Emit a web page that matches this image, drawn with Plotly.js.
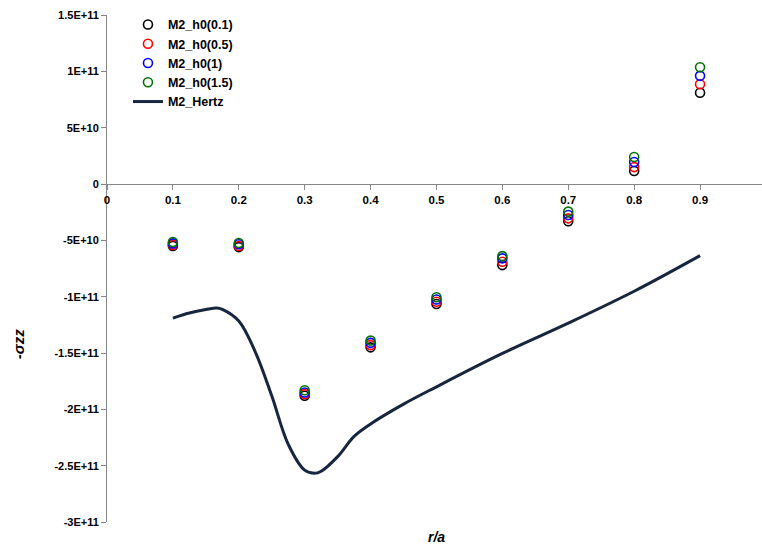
<!DOCTYPE html>
<html>
<head>
<meta charset="utf-8">
<script src="https://cdn.plot.ly/plotly-3.0.1.min.js"></script>
<style>
  html, body { margin: 0; padding: 0; background: #ffffff; }
  #chart { width: 762px; height: 547px; }
</style>
</head>
<body>
<div id="chart"></div>
<script>
// Radial position r/a of the sampled points
const rPoints = [0.1, 0.2, 0.3, 0.4, 0.5, 0.6, 0.7, 0.8, 0.9];

// -sigma_zz for each initial gap h0
const h0_01 = [-5.5e10, -5.6e10, -1.88e11, -1.45e11, -1.065e11, -7.2e10, -3.3e10, 1.15e10, 8.1e10];
const h0_05 = [-5.4e10, -5.5e10, -1.865e11, -1.43e11, -1.045e11, -6.9e10, -3.05e10, 1.5e10, 8.85e10];
const h0_1  = [-5.27e10, -5.35e10, -1.85e11, -1.41e11, -1.025e11, -6.6e10, -2.75e10, 1.95e10, 9.6e10];
const h0_15 = [-5.15e10, -5.24e10, -1.83e11, -1.39e11, -1.005e11, -6.4e10, -2.45e10, 2.4e10, 1.036e11];

// Hertz reference solution
const hertzR = [0.1, 0.125, 0.15, 0.1665, 0.175, 0.2, 0.225, 0.25, 0.275, 0.3, 0.315, 0.325,
                0.35, 0.375, 0.4, 0.45, 0.5, 0.6, 0.7, 0.8, 0.9];
const hertzS = [-1.19e11, -1.145e11, -1.114e11, -1.10e11, -1.112e11, -1.216e11, -1.49e11, -1.88e11,
                -2.31e11, -2.54e11, -2.568e11, -2.55e11, -2.42e11, -2.24e11, -2.13e11, -1.954e11,
                -1.80e11, -1.504e11, -1.235e11, -9.52e10, -6.36e10];

// Axis ticks
const xTickVals = [0, 0.1, 0.2, 0.3, 0.4, 0.5, 0.6, 0.7, 0.8, 0.9];
const xTickText = ['0', '0.1', '0.2', '0.3', '0.4', '0.5', '0.6', '0.7', '0.8', '0.9'];
const yTickVals = [1.5e11, 1e11, 5e10, 0, -5e10, -1e11, -1.5e11, -2e11, -2.5e11, -3e11];
const yTickText = ['1.5E+11', '1E+11', '5E+10', '0', '-5E+10', '-1E+11', '-1.5E+11', '-2E+11', '-2.5E+11', '-3E+11'];

const seriesNames = ['M2_h0(0.1)', 'M2_h0(0.5)', 'M2_h0(1)', 'M2_h0(1.5)'];
const seriesColors = ['#000000', '#ff0000', '#0000ff', '#007000'];
const seriesValues = [h0_01, h0_05, h0_1, h0_15];

const FONT = 'Liberation Sans, Arial, sans-serif';

const traces = seriesValues.map((vals, i) => ({
  type: 'scatter',
  mode: 'markers',
  name: seriesNames[i],
  x: rPoints,
  y: vals,
  marker: { symbol: 'circle-open', size: 9, color: seriesColors[i], line: { width: 1.6, color: seriesColors[i] } }
}));

traces.push({
  type: 'scatter',
  mode: 'lines',
  name: 'M2_Hertz',
  x: hertzR,
  y: hertzS,
  line: { color: '#17263f', width: 3, shape: 'spline', smoothing: 1 }
});

const axisColor = '#868686';

const layout = {
  width: 762,
  height: 547,
  margin: { l: 107, r: 0, t: 15, b: 25 },
  paper_bgcolor: '#ffffff',
  plot_bgcolor: '#ffffff',
  font: { family: FONT, size: 11, color: '#000000', weight: 'bold' },
  showlegend: true,
  legend: {
    x: 0.032, y: 1.01, xanchor: 'left', yanchor: 'top',
    bgcolor: 'rgba(0,0,0,0)',
    tracegroupgap: 0,
    font: { family: FONT, size: 12.5, color: '#000000', weight: 'bold' }
  },
  xaxis: {
    range: [0, 0.994],
    anchor: 'free',
    position: 2 / 3,
    showgrid: false,
    zeroline: false,
    showline: true,
    linecolor: axisColor,
    linewidth: 1,
    ticks: 'outside',
    ticklen: 5,
    tickcolor: axisColor,
    tickvals: xTickVals,
    ticktext: xTickText,
    tickfont: { family: FONT, size: 11.5, color: '#000000', weight: 'bold' }
  },
  yaxis: {
    range: [-3e11, 1.5e11],
    showgrid: false,
    zeroline: false,
    showline: true,
    linecolor: axisColor,
    linewidth: 1,
    ticks: 'outside',
    ticklen: 5,
    tickcolor: axisColor,
    tickvals: yTickVals,
    ticktext: yTickText,
    tickfont: { family: FONT, size: 11, color: '#000000', weight: 'bold' }
  },
  annotations: [
    {
      text: 'r/a', xref: 'paper', yref: 'paper', x: 0.503, y: -0.01,
      xanchor: 'center', yanchor: 'top', showarrow: false,
      font: { family: FONT, size: 14, color: '#000000', weight: 'bold', style: 'italic' }
    },
    {
      text: '-σzz', xref: 'paper', yref: 'paper', x: -0.135, y: 0.35,
      xanchor: 'center', yanchor: 'middle', showarrow: false, textangle: -90,
      font: { family: FONT, size: 15, color: '#000000', weight: 'bold', style: 'italic' }
    }
  ]
};

Plotly.newPlot('chart', traces, layout, { displayModeBar: false, staticPlot: true });
</script>
</body>
</html>
